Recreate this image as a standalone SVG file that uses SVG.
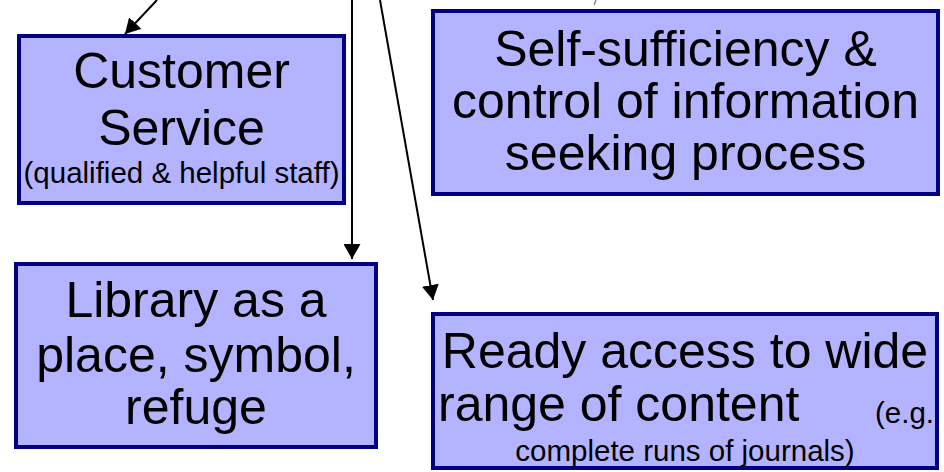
<svg xmlns="http://www.w3.org/2000/svg" width="944" height="472" viewBox="0 0 944 472">
  <defs>
    <style>
      .box { fill: #B3B3FF; stroke: #000080; stroke-width: 4; }
      .big { font-family: "Liberation Sans", Arial, sans-serif; font-size: 50px; fill: #000; }
      .small { font-family: "Liberation Sans", Arial, sans-serif; font-size: 29.5px; fill: #000; }
      .mid { text-anchor: middle; }
      .start { text-anchor: start; }
      .end { text-anchor: end; }
      .conn { stroke: #000; stroke-width: 2; fill: none; marker-end: url(#arrow); }
    </style>
    <marker id="arrow" viewBox="0 0 15 17" refX="15" refY="8.5" markerWidth="15" markerHeight="17" markerUnits="userSpaceOnUse" orient="auto">
      <path d="M0,0 L15,8.5 L0,17 z" fill="#000"/>
    </marker>
  </defs>
  <rect width="944" height="472" fill="#fff"/>

  <g id="connectors">
    <line class="conn" x1="157" y1="0" x2="125" y2="34"/>
    <line class="conn" x1="352" y1="0" x2="352" y2="259"/>
    <line class="conn" x1="380" y1="0" x2="433" y2="300"/>
    <line x1="596" y1="0" x2="594" y2="5" stroke="#888" stroke-width="1.5"/>
  </g>

  <g id="customer-service">
    <rect class="box" x="19" y="36" width="325" height="167"/>
    <text class="big mid" x="181.5" y="88">Customer</text>
    <text class="big mid" x="181.5" y="145">Service</text>
    <text class="small mid" x="181.5" y="183">(qualified &amp; helpful staff)</text>
  </g>

  <g id="self-sufficiency">
    <rect class="box" x="433" y="11" width="505" height="183"/>
    <text class="big mid" x="685.5" y="66">Self-sufficiency &amp;</text>
    <text class="big mid" x="685.5" y="118">control of information</text>
    <text class="big mid" x="685.5" y="170">seeking process</text>
  </g>

  <g id="library-place">
    <rect class="box" x="16" y="264" width="360" height="183"/>
    <text class="big mid" x="196" y="317">Library as a</text>
    <text class="big mid" x="196" y="372">place, symbol,</text>
    <text class="big mid" x="196" y="424">refuge</text>
  </g>

  <g id="ready-access">
    <rect class="box" x="433" y="314" width="504" height="154"/>
    <text class="big mid" x="685" y="368">Ready access to wide</text>
    <text class="big start" x="438" y="421">range of content</text>
    <text class="small end" x="934" y="423">(e.g.</text>
    <text class="small mid" x="685" y="461">complete runs of journals)</text>
  </g>
</svg>
